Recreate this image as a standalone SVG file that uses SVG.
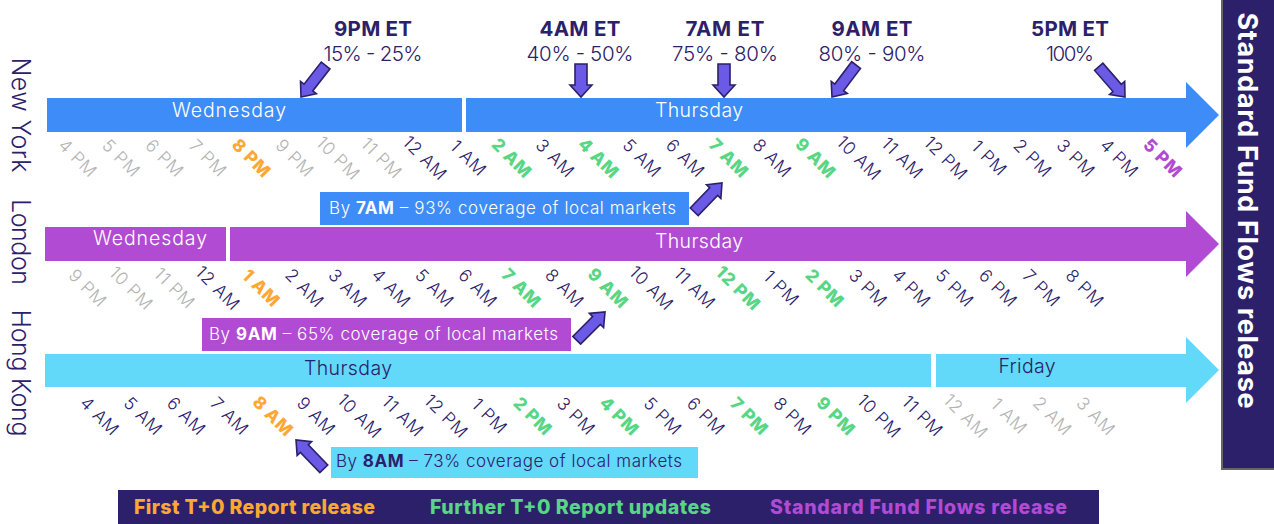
<svg xmlns="http://www.w3.org/2000/svg" width="1274" height="524" viewBox="0 0 1274 524">
<style>
text{font-family:Inter,"Open Sans","Liberation Sans",sans-serif;font-weight:300}
.d{font-size:19.500px;text-anchor:middle}
.w{fill:#fff}.n{fill:#2c206b}
.t{font-size:17.500px;text-anchor:middle;letter-spacing:.8px}
.g{fill:#b3b3b3}
.o{fill:#ffa733;font-weight:800}.e{fill:#57d684;font-weight:800}.p{fill:#b14bd3;font-weight:800}
.c{font-size:17px}
.c tspan{font-weight:700}
.h{font-size:20.500px;font-weight:700;fill:#2c206b;text-anchor:middle}
.s{font-size:20.500px;fill:#2c206b;text-anchor:middle}
.city{font-size:25px;fill:#2c206b;text-anchor:middle}
.l{font-size:19.500px;font-weight:800}
.a{fill:#6a5ae6;stroke:#2c206b;stroke-width:1.6;stroke-linejoin:miter}
.bb{fill:#3d8cf7}.bp{fill:#b14bd3}.bc{fill:#62d9f9}
</style>
<defs>
<polygon id="as" points="-12,-11 0,0 -12,11 -12,6 -33,6 -33,-6 -12,-6"/>
<polygon id="al" points="-12,-10 0,0 -12,10 -12,5.500 -40,5.500 -40,-5.500 -12,-5.500"/>
</defs>

<g id="release-panel">
<rect x="1221" y="-2" width="55" height="472" fill="#666"/>
<rect x="1223" y="-2" width="53" height="470" fill="#2c206b"/>
<text transform="translate(1238,210.500) rotate(90)" text-anchor="middle" font-size="27" style="font-weight:700" fill="#fff" textLength="396" lengthAdjust="spacing">Standard Fund Flows release</text>
</g>

<g id="city-labels">
<text class="city" transform="translate(12,115) rotate(90)" textLength="115">New York</text>
<text class="city" transform="translate(12,242) rotate(90)" textLength="86">London</text>
<text class="city" transform="translate(12,373) rotate(90)" textLength="127">Hong Kong</text>
</g>

<g id="et-labels">
<text class="h" x="373" y="36" textLength="78">9PM ET</text><text class="s" x="373" y="61" textLength="99">15% - 25%</text>
<text class="h" x="580" y="36" textLength="81">4AM ET</text><text class="s" x="580" y="61" textLength="107">40% - 50%</text>
<text class="h" x="725" y="36" textLength="79">7AM ET</text><text class="s" x="725" y="61" textLength="106">75% - 80%</text>
<text class="h" x="872" y="36" textLength="81">9AM ET</text><text class="s" x="872" y="61" textLength="107">80% - 90%</text>
<text class="h" x="1070" y="36" textLength="78">5PM ET</text><text class="s" x="1070" y="61" textLength="48">100%</text>
</g>

<g id="new-york-bar">
<rect class="bb" x="47" y="98" width="415" height="34"/>
<polygon class="bb" points="466,98 1186,98 1186,82 1219,115 1186,148 1186,132 466,132"/>
<text class="d w" x="229" y="117" textLength="114">Wednesday</text>
<text class="d w" x="699" y="117" textLength="88">Thursday</text>
</g>
<g id="new-york-hours" transform="translate(-4.500,-0.500)">
<text class="t g" transform="translate(78,163) rotate(45)">4 PM</text>
<text class="t g" transform="translate(121.400,163) rotate(45)">5 PM</text>
<text class="t g" transform="translate(164.800,163) rotate(45)">6 PM</text>
<text class="t g" transform="translate(208.200,163) rotate(45)">7 PM</text>
<text class="t o" transform="translate(251.600,163) rotate(45)">8 PM</text>
<text class="t g" transform="translate(295,163) rotate(45)">9 PM</text>
<text class="t g" transform="translate(338.400,163) rotate(45)">10 PM</text>
<text class="t g" transform="translate(381.800,163) rotate(45)">11 PM</text>
<text class="t n" transform="translate(425.200,163) rotate(45)">12 AM</text>
<text class="t n" transform="translate(468.600,163) rotate(45)">1 AM</text>
<text class="t e" transform="translate(512,163) rotate(45)">2 AM</text>
<text class="t n" transform="translate(555.400,163) rotate(45)">3 AM</text>
<text class="t e" transform="translate(598.800,163) rotate(45)">4 AM</text>
<text class="t n" transform="translate(642.200,163) rotate(45)">5 AM</text>
<text class="t n" transform="translate(685.600,163) rotate(45)">6 AM</text>
<text class="t e" transform="translate(729,163) rotate(45)">7 AM</text>
<text class="t n" transform="translate(772.400,163) rotate(45)">8 AM</text>
<text class="t e" transform="translate(815.800,163) rotate(45)">9 AM</text>
<text class="t n" transform="translate(859.200,163) rotate(45)">10 AM</text>
<text class="t n" transform="translate(902.600,163) rotate(45)">11 AM</text>
<text class="t n" transform="translate(946,163) rotate(45)">12 PM</text>
<text class="t n" transform="translate(989.400,163) rotate(45)">1 PM</text>
<text class="t n" transform="translate(1032.800,163) rotate(45)">2 PM</text>
<text class="t n" transform="translate(1076.200,163) rotate(45)">3 PM</text>
<text class="t n" transform="translate(1119.600,163) rotate(45)">4 PM</text>
<text class="t p" transform="translate(1163,163) rotate(45)">5 PM</text>
</g>
<g id="new-york-callout">
<rect class="bb" x="320" y="192" width="369" height="33"/>
<text class="c w" x="329" y="214" textLength="347">By <tspan>7AM</tspan> – 93% coverage of local markets</text>
</g>

<g id="london-bar">
<rect class="bp" x="45" y="227" width="181" height="34"/>
<polygon class="bp" points="230,227 1186,227 1186,211 1219,244 1186,277 1186,261 230,261"/>
<text class="d w" x="150" y="245" textLength="114">Wednesday</text>
<text class="d w" x="699" y="248" textLength="88">Thursday</text>
</g>
<g id="london-hours" transform="translate(-4.500,-0.500)">
<text class="t g" transform="translate(88,293) rotate(45)">9 PM</text>
<text class="t g" transform="translate(131.400,293) rotate(45)">10 PM</text>
<text class="t g" transform="translate(174.700,293) rotate(45)">11 PM</text>
<text class="t n" transform="translate(218,293) rotate(45)">12 AM</text>
<text class="t o" transform="translate(261.400,293) rotate(45)">1 AM</text>
<text class="t n" transform="translate(304.800,293) rotate(45)">2 AM</text>
<text class="t n" transform="translate(348.100,293) rotate(45)">3 AM</text>
<text class="t n" transform="translate(391.500,293) rotate(45)">4 AM</text>
<text class="t n" transform="translate(434.800,293) rotate(45)">5 AM</text>
<text class="t n" transform="translate(478.200,293) rotate(45)">6 AM</text>
<text class="t e" transform="translate(521.500,293) rotate(45)">7 AM</text>
<text class="t n" transform="translate(564.900,293) rotate(45)">8 AM</text>
<text class="t e" transform="translate(608.200,293) rotate(45)">9 AM</text>
<text class="t n" transform="translate(651.600,293) rotate(45)">10 AM</text>
<text class="t n" transform="translate(694.900,293) rotate(45)">11 AM</text>
<text class="t e" transform="translate(738.300,293) rotate(45)">12 PM</text>
<text class="t n" transform="translate(781.600,293) rotate(45)">1 PM</text>
<text class="t e" transform="translate(825,293) rotate(45)">2 PM</text>
<text class="t n" transform="translate(868.300,293) rotate(45)">3 PM</text>
<text class="t n" transform="translate(911.700,293) rotate(45)">4 PM</text>
<text class="t n" transform="translate(955,293) rotate(45)">5 PM</text>
<text class="t n" transform="translate(998.400,293) rotate(45)">6 PM</text>
<text class="t n" transform="translate(1041.700,293) rotate(45)">7 PM</text>
<text class="t n" transform="translate(1085,293) rotate(45)">8 PM</text>
</g>
<g id="london-callout">
<rect class="bp" x="202" y="318" width="369" height="33"/>
<text class="c w" x="209" y="340" textLength="349">By <tspan>9AM</tspan> – 65% coverage of local markets</text>
</g>

<g id="hong-kong-bar">
<rect class="bc" x="45" y="354" width="886" height="33"/>
<polygon class="bc" points="936,354 1186,354 1186,337 1219,370 1186,403 1186,387 936,387"/>
<text class="d n" x="348" y="375" textLength="88">Thursday</text>
<text class="d n" x="1027" y="373" textLength="57">Friday</text>
</g>
<g id="hong-kong-hours" transform="translate(-4.500,-0.500)">
<text class="t n" transform="translate(100,421) rotate(45)">4 AM</text>
<text class="t n" transform="translate(143.300,421) rotate(45)">5 AM</text>
<text class="t n" transform="translate(186.600,421) rotate(45)">6 AM</text>
<text class="t n" transform="translate(229.900,421) rotate(45)">7 AM</text>
<text class="t o" transform="translate(273.200,421) rotate(45)">8 AM</text>
<text class="t n" transform="translate(316.500,421) rotate(45)">9 AM</text>
<text class="t n" transform="translate(359.800,421) rotate(45)">10 AM</text>
<text class="t n" transform="translate(403.100,421) rotate(45)">11 AM</text>
<text class="t n" transform="translate(446.400,421) rotate(45)">12 PM</text>
<text class="t n" transform="translate(489.700,421) rotate(45)">1 PM</text>
<text class="t e" transform="translate(533,421) rotate(45)">2 PM</text>
<text class="t n" transform="translate(576.300,421) rotate(45)">3 PM</text>
<text class="t e" transform="translate(619.600,421) rotate(45)">4 PM</text>
<text class="t n" transform="translate(662.900,421) rotate(45)">5 PM</text>
<text class="t n" transform="translate(706.200,421) rotate(45)">6 PM</text>
<text class="t e" transform="translate(749.500,421) rotate(45)">7 PM</text>
<text class="t n" transform="translate(792.800,421) rotate(45)">8 PM</text>
<text class="t e" transform="translate(836.100,421) rotate(45)">9 PM</text>
<text class="t n" transform="translate(879.400,421) rotate(45)">10 PM</text>
<text class="t n" transform="translate(922.700,421) rotate(45)">11 PM</text>
<text class="t g" transform="translate(966,421) rotate(45)">12 AM</text>
<text class="t g" transform="translate(1009.300,421) rotate(45)">1 AM</text>
<text class="t g" transform="translate(1052.600,421) rotate(45)">2 AM</text>
<text class="t g" transform="translate(1096,421) rotate(45)">3 AM</text>
</g>
<g id="hong-kong-callout">
<rect class="bc" x="331" y="447" width="367" height="31"/>
<text class="c n" x="336" y="467" textLength="346">By <tspan>8AM</tspan> – 73% coverage of local markets</text>
</g>

<g id="connectors">
<use href="#al" class="a" transform="translate(301,97) rotate(128)"/>
<use href="#as" class="a" transform="translate(581,97) rotate(90)"/>
<use href="#as" class="a" transform="translate(724,97) rotate(90)"/>
<use href="#al" class="a" transform="translate(832,97) rotate(127)"/>
<use href="#al" class="a" transform="translate(1125,97) rotate(49)"/>
<use href="#al" class="a" transform="translate(722,183) rotate(-46)"/>
<use href="#al" class="a" transform="translate(605,312) rotate(-45)"/>
<use href="#al" class="a" transform="translate(296,440) rotate(226)"/>
</g>

<g id="legend">
<rect x="118" y="490" width="981" height="34" fill="#2c206b"/>
<text class="l" x="134" y="514" fill="#ffa733" textLength="241">First T+0 Report release</text>
<text class="l" x="430" y="514" fill="#57d684" textLength="281">Further T+0 Report updates</text>
<text class="l" x="770" y="514" fill="#b14bd3" textLength="297">Standard Fund Flows release</text>
</g>
</svg>
